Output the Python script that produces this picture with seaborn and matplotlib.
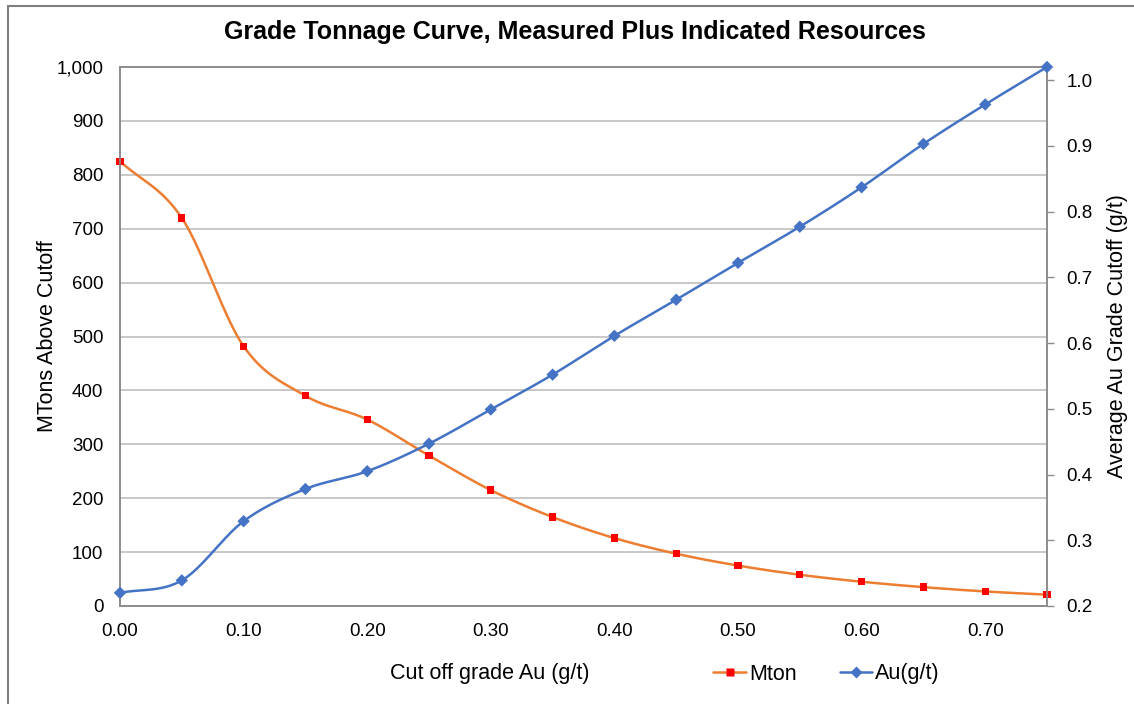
"""
Grade tonnage curve - measured plus indicated resources
"""

import numpy as np
import pandas as pd
import matplotlib
matplotlib.use('Agg')
import matplotlib.pyplot as plt
import matplotlib.ticker as mticker
from matplotlib.lines import Line2D
import seaborn as sns

# cutoff grades and values
cutoff = [0.00, 0.05, 0.10, 0.15, 0.20, 0.25, 0.30, 0.35, 0.40,
          0.45, 0.50, 0.55, 0.60, 0.65, 0.70, 0.75]
mton = [825, 720, 482, 390, 346, 279, 215, 165, 126,
        97, 75, 58, 45, 35, 27, 21]
au_grade = [0.220, 0.239, 0.329, 0.378, 0.405, 0.447, 0.499, 0.552, 0.611,
            0.666, 0.722, 0.777, 0.837, 0.903, 0.963, 1.020]


def smooth(x, y, n=20):
    """Catmull-Rom style smoothing like Excel's smoothed line"""
    x = np.asarray(x, float)
    y = np.asarray(y, float)
    px = np.concatenate([[2 * x[0] - x[1]], x, [2 * x[-1] - x[-2]]])
    py = np.concatenate([[2 * y[0] - y[1]], y, [2 * y[-1] - y[-2]]])
    xs, ys = [], []
    t = np.linspace(0, 1, n, endpoint=False)
    for i in range(1, len(px) - 2):
        p0, p1, p2, p3 = py[i - 1], py[i], py[i + 1], py[i + 2]
        q0, q1, q2, q3 = px[i - 1], px[i], px[i + 1], px[i + 2]
        b1 = p1 + (p2 - p0) / 6
        b2 = p2 - (p3 - p1) / 6
        c1 = q1 + (q2 - q0) / 6
        c2 = q2 - (q3 - q1) / 6
        ys.append((1 - t) ** 3 * p1 + 3 * (1 - t) ** 2 * t * b1 + 3 * (1 - t) * t ** 2 * b2 + t ** 3 * p2)
        xs.append((1 - t) ** 3 * q1 + 3 * (1 - t) ** 2 * t * c1 + 3 * (1 - t) * t ** 2 * c2 + t ** 3 * q2)
    xs.append([x[-1]])
    ys.append([y[-1]])
    return np.concatenate(xs), np.concatenate(ys)


sns.set_theme(style='white')
plt.rcParams['font.family'] = ['Liberation Sans', 'DejaVu Sans']
plt.rcParams['text.color'] = 'black'
plt.rcParams['axes.labelcolor'] = 'black'

fig = plt.figure(figsize=(11.34, 7.04), dpi=100)
ax = fig.add_axes([120 / 1134, 1 - 606 / 704, (1047 - 120) / 1134, (606 - 67) / 704])
ax2 = ax.twinx()

orange = '#ED7D31'
blue = '#4472C4'

# smoothed lines
sx, sy = smooth(cutoff, mton)
sns.lineplot(x=sx, y=sy, ax=ax, color=orange, linewidth=1.8, sort=False, zorder=3)
sx2, sy2 = smooth(cutoff, au_grade)
sns.lineplot(x=sx2, y=sy2, ax=ax2, color=blue, linewidth=1.8, sort=False, zorder=3)

# markers
df = pd.DataFrame({'cutoff': cutoff, 'mton': mton, 'au': au_grade})
sns.scatterplot(data=df, x='cutoff', y='mton', ax=ax, color='#FF0000', marker='s',
                s=28, edgecolor='none', zorder=4, clip_on=False)
sns.scatterplot(data=df, x='cutoff', y='au', ax=ax2, color=blue, marker='D',
                s=40, edgecolor='none', zorder=4, clip_on=False)

ax.set_xlim(0, 0.75)
ax.set_ylim(0, 1000)
ax2.set_ylim(0.2, 1.02)

ax.xaxis.set_major_locator(mticker.MultipleLocator(0.1))
ax.xaxis.set_major_formatter(mticker.FormatStrFormatter('%.2f'))
ax.yaxis.set_major_locator(mticker.MultipleLocator(100))
ax.yaxis.set_major_formatter(mticker.FuncFormatter(lambda v, p: f'{v:,.0f}'))
ax2.yaxis.set_major_locator(mticker.MultipleLocator(0.1))
ax2.yaxis.set_major_formatter(mticker.FuncFormatter(lambda v, p: f'{v:.1f}'))

ax.grid(axis='y', color='#BFBFBF', linewidth=1.2)
ax2.grid(False)
for a in (ax, ax2):
    for sp in a.spines.values():
        sp.set_color('#8C8C8C')
        sp.set_linewidth(1.2)

ax.tick_params(axis='y', labelsize=13.5, labelcolor='black', length=0, pad=12)
ax.tick_params(axis='x', labelsize=13.5, labelcolor='black', length=0, pad=12)
ax2.tick_params(axis='y', labelsize=13.5, labelcolor='black', length=5, width=1,
                direction='out', pad=9, color='#8C8C8C')

ax.set_xlabel('')
ax.set_ylabel('MTons Above Cutoff', fontsize=15.5, labelpad=-1)
ax2.set_ylabel('Average Au Grade Cutoff (g/t)', fontsize=15.5, labelpad=10)

fig.text(490 / 1134, 1 - 674 / 704, 'Cut off grade Au (g/t)', fontsize=15.5,
         ha='center', va='center')
fig.suptitle('Grade Tonnage Curve, Measured Plus Indicated Resources',
             fontsize=18, fontweight='bold', x=575 / 1134, y=1 - 32 / 704, va='center')

# legend
h1 = Line2D([], [], color=orange, linewidth=1.8, marker='s',
            markerfacecolor='#FF0000', markeredgecolor='none', markersize=6)
h2 = Line2D([], [], color=blue, linewidth=1.8, marker='D',
            markerfacecolor=blue, markeredgecolor='none', markersize=6)
fig.legend([h1, h2], ['Mton', 'Au(g/t)'], loc='center left',
           bbox_to_anchor=(694 / 1134, 1 - 674 / 704), ncol=2, frameon=False,
           fontsize=15.5, handlelength=1.5, handletextpad=0.15, columnspacing=2.0)

# chart border (screenshot is cropped, only top and left edges show)
bx, by = 7.5 / 1134, 1 - 5.5 / 704
fig.add_artist(Line2D([bx, 1], [by, by], transform=fig.transFigure,
                      color='#7F7F7F', linewidth=1.5))
fig.add_artist(Line2D([bx, bx], [0, by], transform=fig.transFigure,
                      color='#7F7F7F', linewidth=1.5))

fig.savefig('out.png', dpi=100)
